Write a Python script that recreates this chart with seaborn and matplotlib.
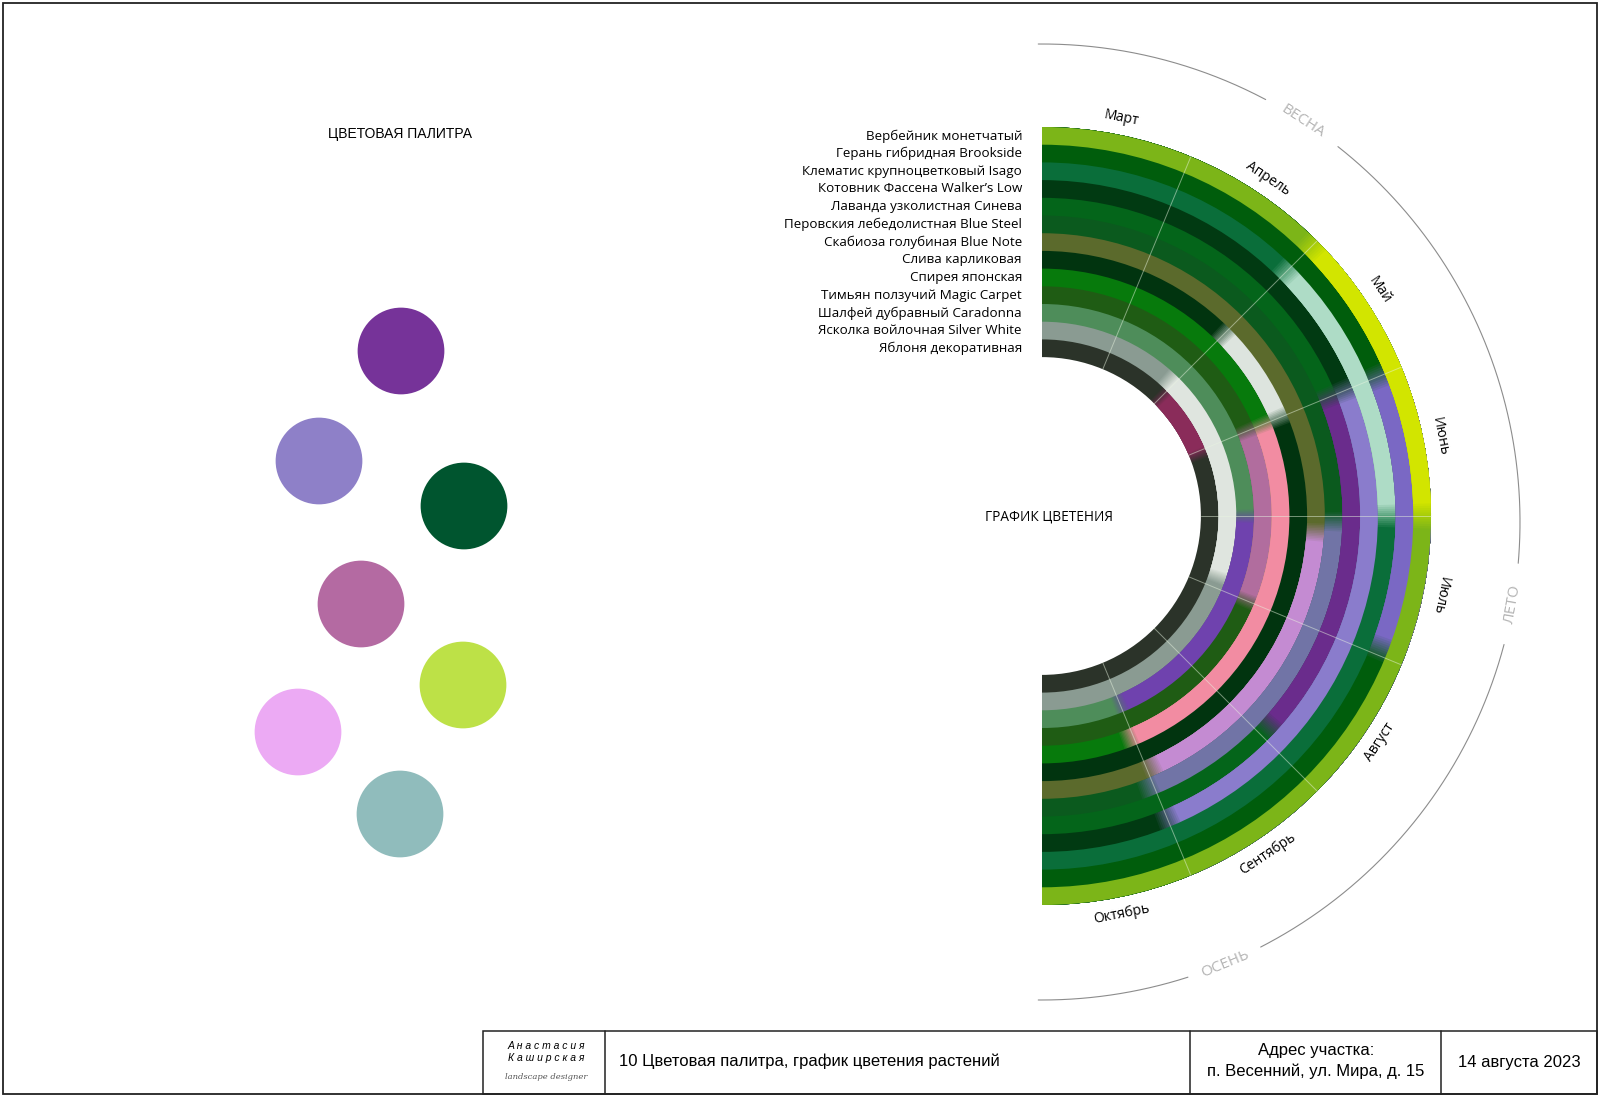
import numpy as np
import matplotlib
matplotlib.use('Agg')
import matplotlib.pyplot as plt
from matplotlib.patches import Rectangle
import seaborn as sns

# plants, outer ring first
plants = ['Вербейник монетчатый', 'Герань гибридная Brookside',
          'Клематис крупноцветковый Isago', 'Котовник Фассена Walker’s Low',
          'Лаванда узколистная Синева', 'Перовския лебедолистная Blue Steel',
          'Скабиоза голубиная Blue Note', 'Слива карликовая', 'Спирея японская',
          'Тимьян ползучий Magic Carpet', 'Шалфей дубравный Caradonna',
          'Ясколка войлочная Silver White', 'Яблоня декоративная']
foliage = ['#7cb518', '#005d0c', '#0a6e3a', '#013a12', '#04651a', '#0b5a1e',
           '#5b6a2c', '#01340f', '#077a0c', '#1f5c14', '#4e8d5a', '#8a9b92', '#2b3329']
flower = ['#d2e500', '#7a68c4', '#aedcc6', '#8a7ccc', '#6a2c8c', '#7174a6',
          '#c48bd2', '#dde4de', '#f28ca2', '#b16d9e', '#6f42ae', '#dfe5df', '#8a2c5a']
# bloom period in month units (3.0 = 1 March, 11.0 = end of October)
bloom_start = [5.0, 6.0, 5.0, 6.0, 6.0, 7.05, 7.15, 5.0, 6.0, 6.0, 7.0, 4.9, 5.0]
bloom_end = [7.0, 7.95, 7.0, 10.0, 8.9, 10.05, 9.95, 6.0, 10.05, 8.0, 10.0, 7.85, 6.05]

months = ['Март', 'Апрель', 'Май', 'Июнь', 'Июль', 'Август', 'Сентябрь', 'Октябрь']
seasons = ['ВЕСНА', 'ЛЕТО', 'ОСЕНЬ']
season_pos = [4.47, 7.44, 10.0]
season_gap = [0.23, 0.22, 0.21]

palette_colors = ['#763399', '#8e80c8', '#00552f', '#b46aa2', '#bde147', '#ecaaf4', '#90bcbc']
palette_x = [401, 319, 464, 361, 463, 298, 400]
palette_y = [351, 461, 506, 604, 685, 732, 814]

sns.set_theme(style='white')
plt.rcParams['font.family'] = ['Open Sans', 'DejaVu Sans']
plt.rcParams['text.color'] = 'black'

W, H = 1600, 1096
fig = plt.figure(figsize=(W / 100, H / 100), dpi=100)

# page layer in pixel coordinates
page = fig.add_axes([0, 0, 1, 1])
page.set_xlim(0, W)
page.set_ylim(H, 0)
page.set_axis_off()

sns.scatterplot(x=palette_x, y=palette_y, hue=list(range(len(palette_colors))),
                palette=palette_colors, s=3900, linewidth=0, legend=False, ax=page)
page.text(400, 134, 'ЦВЕТОВАЯ ПАЛИТРА', ha='center', va='center', fontsize=10,
          family=['Liberation Sans', 'DejaVu Sans'])
page.text(1049, 517, 'ГРАФИК ЦВЕТЕНИЯ', ha='center', va='center', fontsize=9.8)

# frame and title block
page.add_patch(Rectangle((3, 3), 1594, 1091, fill=False, lw=1.3, ec='#222222'))
page.add_patch(Rectangle((483, 1031), 1114, 63, fill=False, lw=1.1, ec='#222222'))
for xv in [605, 1190, 1441]:
    page.plot([xv, xv], [1031, 1094], color='#222222', lw=1.1)
arial = ['Liberation Sans Narrow', 'Liberation Sans', 'DejaVu Sans']
page.text(619, 1061, '10 Цветовая палитра, график цветения растений', ha='left',
          va='center', fontsize=12, family=arial)
page.text(1316, 1051, 'Адрес участка:', ha='center', va='center', fontsize=12, family=arial)
page.text(1316, 1071, 'п. Весенний, ул. Мира, д. 15', ha='center', va='center',
          fontsize=12, family=arial)
page.text(1519, 1062, '14 августа 2023', ha='center', va='center', fontsize=12, family=arial)
page.text(546, 1046, 'А н а с т а с и я', ha='center', va='center', fontsize=7.5,
          style='italic', family=arial)
page.text(546, 1058, 'К а ш и р с к а я', ha='center', va='center', fontsize=7.5,
          style='italic', family=arial)
page.text(546, 1077, 'landscape designer', ha='center', va='center', fontsize=6,
          style='italic', color='#555555', family=['DejaVu Serif'])


def polar_at(cx, cy, R):
    a = fig.add_axes([(cx - R) / W, (H - cy - R) / H, 2 * R / W, 2 * R / H], projection='polar')
    a.set_theta_zero_location('N')
    a.set_theta_direction(-1)
    a.set_ylim(0, R)
    a.set_axis_off()
    return a


def to_theta(month):
    return np.radians((np.asarray(month) - 3) * 22.5)


# polar bloom chart, radius in pixels
ax = polar_at(1042, 516, 500)
r_out, ring_w = 389, 17.7
n = len(plants)
r_edges = r_out - ring_w * np.arange(n + 1)
blur, steps = 0.18, 12

# inner ring first; each bar reaches the outer edge so the next ring covers it (no seams)
for i in reversed(range(n)):
    bottom = r_edges[i + 1]
    ax.bar(np.pi / 2, r_out - bottom, width=np.pi, bottom=bottom, color=foliage[i],
           linewidth=0, align='center')
    # soft bloom edges: stacked layers whose composite gives a linear ramp
    for j in range(1, steps + 1):
        a = bloom_start[i] - blur / 2 + (j - 0.5) * blur / steps
        b = bloom_end[i] + blur / 2 - (j - 0.5) * blur / steps
        t0, t1 = to_theta(max(a, 3.0)), to_theta(min(b, 11.0))
        ax.bar((t0 + t1) / 2, r_out - bottom, width=t1 - t0, bottom=bottom,
               color=flower[i], alpha=1.0 / (steps - j + 1), linewidth=0, align='center')

# month dividers
for k in range(1, len(months)):
    th = np.radians(22.5 * k)
    ax.plot([th, th], [r_edges[-1], r_out], color='#e8f4e0', alpha=0.5, lw=0.7)

for i, name in enumerate(plants):
    ax.annotate(name, xy=(0, (r_edges[i] + r_edges[i + 1]) / 2), xytext=(-20, 0),
                textcoords='offset pixels', ha='right', va='center', fontsize=9.6)

for k, name in enumerate(months):
    deg = 22.5 * (k + 0.5)
    rot = -deg if deg < 112.5 else 180 - deg
    ax.text(np.radians(deg), 406, name, rotation=rot, rotation_mode='anchor',
            ha='center', va='center', fontsize=10)

# season arc with gaps for labels
sax = polar_at(1042, 522, 500)
edges = [2.98]
for p, g in zip(season_pos, season_gap):
    edges += [p - g, p + g]
edges.append(11.02)
for a, b in zip(edges[0::2], edges[1::2]):
    th = to_theta(np.linspace(a, b, 200))
    sax.plot(th, np.full_like(th, 478), color='#8c8c8c', lw=0.8)
for name, p in zip(seasons, season_pos):
    deg = (p - 3) * 22.5
    rot = -deg if deg < 90 else 180 - deg
    sax.text(np.radians(deg), 478, name, rotation=rot, rotation_mode='anchor',
             ha='center', va='center', fontsize=11, color='#b4b4b4')

fig.savefig('out.png', dpi=100)
